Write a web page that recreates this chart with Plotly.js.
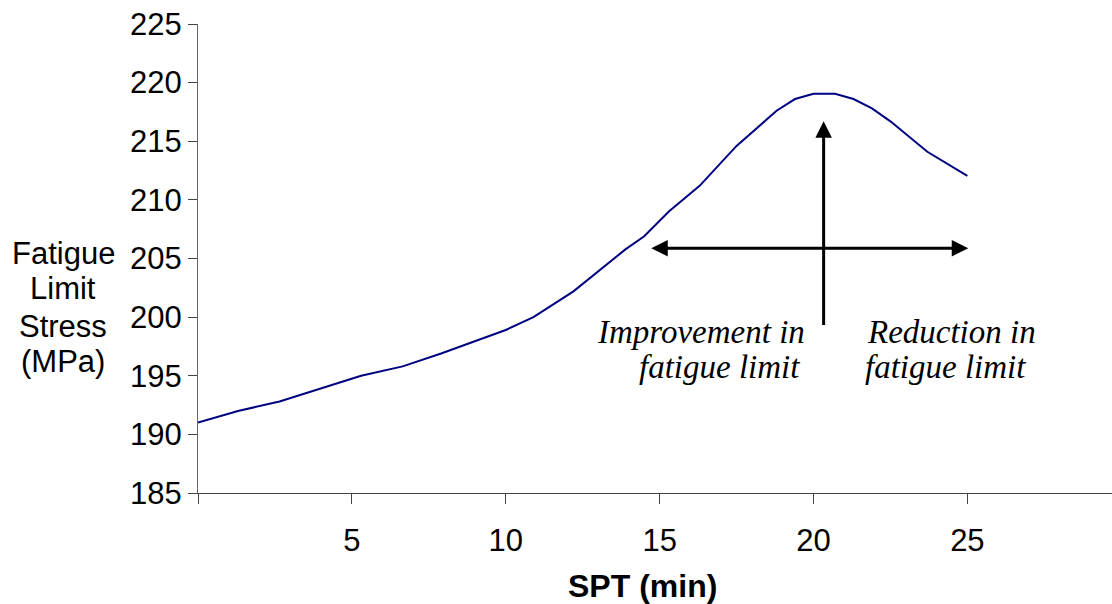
<!DOCTYPE html>
<html>
<head>
<meta charset="utf-8">
<script src="https://cdn.plot.ly/plotly-3.0.1.min.js"></script>
<style>html,body{margin:0;padding:0;background:#fff;}#chart{width:1112px;height:604px;}</style>
</head>
<body>
<div id="chart"></div>
<script>
// SPT (min)
const sptMin = [0, 1.3, 2.65, 4.1, 5.3, 6.65, 7.9, 8.95, 10.0, 10.9, 12.2, 13.9, 14.5, 15.3, 16.3, 17.5, 18.8, 19.4, 20.0, 20.7, 21.3, 21.9, 22.5, 23.7, 25.0];
// Fatigue limit stress (MPa)
const fatigueStress = [191.0, 192.0, 192.8, 194.0, 195.0, 195.8, 196.9, 197.9, 198.9, 200.0, 202.2, 205.8, 206.9, 209.0, 211.2, 214.6, 217.6, 218.6, 219.05, 219.05, 218.6, 217.8, 216.7, 214.1, 212.05];

const xTickVals = [0, 5, 10, 15, 20, 25];
const xTickText = ['', '5', '10', '15', '20', '25'];
const yTickVals = [185, 190, 195, 200, 205, 210, 215, 220, 225];

const yTitleLines = ['Fatigue', 'Limit', 'Stress', '(MPa)'];
const xTitle = 'SPT (min)';
const leftNote = ['Improvement in', 'fatigue limit'];
const rightNote = ['Reduction in', 'fatigue limit'];

// arrow positions (data units)
const hArrow = {x0: 14.68, x1: 25.03, y: 205.88};
const vArrow = {x: 20.33, y0: 199.2, y1: 216.7};

const L = 198, T = 24, W = 1112, H = 604, B = 111;
const plotH = H - T - B;
function py(p) { return (H - B - p) / plotH; }       // pixel y -> paper y
function px(p) { return (p - L) / (W - L); }         // pixel x -> paper x

const sans = 'Liberation Sans, Arial, sans-serif';
const serif = 'Liberation Serif, Times New Roman, serif';

const trace = {
  x: sptMin, y: fatigueStress, type: 'scatter', mode: 'lines',
  line: {color: '#000080', width: 2}, hoverinfo: 'skip', showlegend: false
};

const annotations = [];
const yCenters = [253, 289, 326, 361];
yTitleLines.forEach((t, i) => annotations.push({
  text: t, xref: 'paper', yref: 'paper', x: px(63), y: py(yCenters[i]),
  xanchor: 'center', yanchor: 'middle', showarrow: false,
  font: {family: sans, size: 31, color: '#000'}
}));
annotations.push({
  text: '<b>' + xTitle + '</b>', xref: 'paper', yref: 'paper', x: px(642), y: py(586),
  xanchor: 'center', yanchor: 'middle', showarrow: false,
  font: {family: sans, size: 32, color: '#000'}
});
// notes
const noteFont = {family: serif, size: 33, color: '#000'};
annotations.push({text: '<i>' + leftNote[0] + '</i>', xref: 'x', yref: 'y', x: 12.9, y: 198.75, xanchor: 'left', yanchor: 'middle', showarrow: false, font: noteFont});
annotations.push({text: '<i>' + leftNote[1] + '</i>', xref: 'x', yref: 'y', x: 14.27, y: 195.77, xanchor: 'left', yanchor: 'middle', showarrow: false, font: noteFont});
annotations.push({text: '<i>' + rightNote[0] + '</i>', xref: 'x', yref: 'y', x: 21.67, y: 198.75, xanchor: 'left', yanchor: 'middle', showarrow: false, font: noteFont});
annotations.push({text: '<i>' + rightNote[1] + '</i>', xref: 'x', yref: 'y', x: 21.61, y: 195.77, xanchor: 'left', yanchor: 'middle', showarrow: false, font: noteFont});
// arrows
annotations.push({
  text: '', xref: 'x', yref: 'y', axref: 'x', ayref: 'y',
  x: hArrow.x1, y: hArrow.y, ax: hArrow.x0, ay: hArrow.y,
  showarrow: true, arrowhead: 2, arrowside: 'end+start', arrowsize: 1.1, arrowwidth: 3, arrowcolor: '#000'
});
annotations.push({
  text: '', xref: 'x', yref: 'y', axref: 'x', ayref: 'y',
  x: vArrow.x, y: vArrow.y1, ax: vArrow.x, ay: vArrow.y0,
  showarrow: true, arrowhead: 2, arrowsize: 1.1, arrowwidth: 3, arrowcolor: '#000'
});

const layout = {
  width: W, height: H,
  margin: {l: L, r: 0, t: T, b: B, pad: 0},
  paper_bgcolor: '#fff', plot_bgcolor: '#fff',
  showlegend: false,
  xaxis: {
    range: [0, 29.7], tickvals: xTickVals, ticktext: xTickText,
    showgrid: false, zeroline: false, showline: true, linecolor: '#444', linewidth: 1,
    ticks: 'outside', ticklen: 10, tickcolor: '#444', tickwidth: 1,
    tickfont: {family: sans, size: 31, color: '#000'}, ticklabelstandoff: 10, fixedrange: true
  },
  yaxis: {
    range: [185, 225], tickvals: yTickVals,
    showgrid: false, zeroline: false, showline: true, linecolor: '#666', linewidth: 1,
    ticks: 'outside', ticklen: 9, tickcolor: '#444', tickwidth: 1,
    tickfont: {family: sans, size: 31, color: '#000'}, fixedrange: true
  },
  annotations: annotations
};

Plotly.newPlot('chart', [trace], layout, {displayModeBar: false, staticPlot: true});
</script>
</body>
</html>
